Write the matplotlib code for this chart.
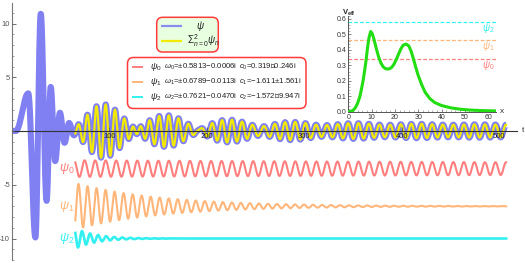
import numpy as np
import matplotlib
matplotlib.use("Agg")
import matplotlib.pyplot as plt
from matplotlib.patches import FancyBboxPatch
from matplotlib.ticker import MultipleLocator, FixedLocator

plt.rcParams['font.family'] = ['Liberation Sans', 'DejaVu Sans']
plt.rcParams['mathtext.fontset'] = 'custom'
plt.rcParams['mathtext.rm'] = 'Liberation Sans'
plt.rcParams['mathtext.it'] = 'Liberation Sans:italic'
plt.rcParams['mathtext.bf'] = 'Liberation Sans:bold'

# ---------------- data ----------------
# quasinormal modes (omega = +/-Re - i|Im|), amplitudes for the +Re branch
omega_re = [0.5813, 0.6789, 0.7621]
omega_im = [-0.0006, -0.0113, -0.0470]
c_re = [0.319, -1.611, -1.572]
c_im = [-0.246, 1.561, -9.947]
c_sign = ['∓', '±', '∓']
mode_offsets = [-3.5, -7.0, -10.0]
mode_colors = ['#ff7f7f', '#ffb67a', '#33f0f0']
t_start_modes = 65.0
t_end = 507.0

# early burst of psi: extrema (t, value)
burst_t = [0.0, 4.0, 16.7, 24.0, 29.5, 35.5, 39.7, 44.3, 49.2, 53.9, 58.6]
burst_v = [0.0, 0.0, 3.5, -9.9, 10.9, -6.5, 4.1, -2.8, 1.7, -1.1, 0.75]

# effective potential samples
veff_x = [0, 1, 2, 3, 4, 5, 5.7, 6.4, 7, 7.6, 8.3, 8.9, 9.6, 10.3, 11, 12, 13, 14,
          15, 16, 17.2, 18.5, 19.5, 20.5, 21.5, 22.5, 23.5, 24.8, 26, 27, 28, 29,
          30, 31.5, 33, 35, 37, 40, 44, 48, 52, 56, 60, 63.4]
veff_v = [0, 0.002, 0.008, 0.025, 0.055, 0.10, 0.15, 0.205, 0.265, 0.33, 0.42,
          0.48, 0.519, 0.505, 0.47, 0.41, 0.355, 0.315, 0.29, 0.278, 0.276, 0.285,
          0.305, 0.335, 0.37, 0.405, 0.43, 0.438, 0.425, 0.39, 0.34, 0.285, 0.235,
          0.175, 0.125, 0.085, 0.06, 0.04, 0.025, 0.016, 0.011, 0.008, 0.006, 0.005]

x_ticks = [100, 200, 300, 400, 500]
y_ticks = [-10, -5, 5, 10]
inset_x_ticks = [0, 10, 20, 30, 40, 50, 60]
inset_y_ticks = [0.0, 0.1, 0.2, 0.3, 0.4, 0.5, 0.6]


def mode(n, t):
    c = c_re[n] + 1j * c_im[n]
    w = omega_re[n] + 1j * omega_im[n]
    return 2 * np.real(c * np.exp(-1j * w * t))


def mode_sum(t):
    return sum(mode(n, t) for n in range(3))


def cos_join(tk, vk, t):
    out = np.zeros_like(t)
    for i in range(len(tk) - 1):
        m = (t >= tk[i]) & (t <= tk[i + 1])
        s = (t[m] - tk[i]) / (tk[i + 1] - tk[i])
        out[m] = vk[i] + (vk[i + 1] - vk[i]) * (1 - np.cos(np.pi * s)) / 2
    return out


# ---------------- figure ----------------
W, H = 525, 263
fig = plt.figure(figsize=(W / 100, H / 100), dpi=100)

px0, px_per_t = 12.0, 0.9746
py0, py_per_u = 131.0, 10.75
ax_right, ax_top, ax_bot = 517.0, 3.0, 260.0
ax = fig.add_axes([px0 / W, 1 - ax_bot / H, (ax_right - px0) / W, (ax_bot - ax_top) / H])
ax.set_xlim(0, (ax_right - px0) / px_per_t)
ax.set_ylim(-(ax_bot - py0) / py_per_u, (py0 - ax_top) / py_per_u)
ax.patch.set_alpha(0)

# blue psi
tt = np.linspace(0, t_end, 8000)
cand = np.linspace(60.5, 66, 2000)
t_join = cand[np.argmin(mode_sum(cand))]
bt = list(burst_t) + [t_join]
bv = list(burst_v) + [float(mode_sum(np.array([t_join]))[0])]
psi = np.where(tt < t_join, cos_join(bt, bv, tt), mode_sum(tt))
ax.plot(tt, psi, color='#8080f2', lw=4.4, solid_capstyle='butt', zorder=1.2)

# sum of modes
ts = np.linspace(t_start_modes, t_end, 6000)
ax.plot(ts, mode_sum(ts), color='#f2ea00', lw=1.6, zorder=1.3)

# shifted individual modes
for n in range(3):
    ax.plot(ts, mode(n, ts) + mode_offsets[n], color=mode_colors[n],
            lw=1.5 if n < 2 else 1.9, zorder=1.2)
    ax.text(t_start_modes - 1.0, mode_offsets[n], r'$\psi_{%d}$' % n,
            color=mode_colors[n], fontsize=9, ha='right', va='center')

for s in ['top', 'right']:
    ax.spines[s].set_visible(False)
ax.spines['bottom'].set_position(('data', 0))
ax.spines['bottom'].set_color('#333333')
ax.spines['bottom'].set_linewidth(0.8)
ax.spines['bottom'].set_zorder(5)
ax.spines['left'].set_color('#777777')
ax.spines['left'].set_linewidth(0.8)
ax.xaxis.set_zorder(6)
ax.yaxis.set_zorder(6)
ax.xaxis.set_major_locator(FixedLocator(x_ticks))
ax.xaxis.set_minor_locator(MultipleLocator(20))
ax.yaxis.set_major_locator(FixedLocator(y_ticks))
ax.yaxis.set_minor_locator(MultipleLocator(1))
ax.set_yticklabels([str(v) for v in y_ticks])
ax.tick_params(axis='both', which='major', direction='in', length=3, width=0.6,
               labelsize=5.5, colors='#555555', pad=1.5)
ax.tick_params(axis='both', which='minor', direction='in', length=1.5, width=0.5,
               colors='#777777')
ax.tick_params(axis='x', which='major', labelcolor='#222222')
ax.annotate('t', xy=(523 / W, 1 - 131 / H), xycoords='figure fraction',
            fontsize=6, color='#333333', ha='center', va='center')

# ---------------- inset ----------------
i_left, i_right, i_bot = 348.3, 496.0, 111.7
ix_per, iy_per = 2.33, 154.5
i_ytop = 0.62
i_top = i_bot - i_ytop * iy_per
ax2 = fig.add_axes([i_left / W, 1 - i_bot / H, (i_right - i_left) / W, (i_bot - i_top) / H])
ax2.set_xlim(0, (i_right - i_left) / ix_per)
ax2.set_ylim(0, i_ytop)
ax2.patch.set_alpha(0)
for n in range(3):
    lvl = omega_re[n] ** 2
    ax2.axhline(lvl, color=mode_colors[n], lw=0.9, ls=(0, (3, 1.6)), zorder=2)
    ax2.text(60.1, lvl - 0.038, r'$\psi_{%d}$' % n, color=mode_colors[n],
             fontsize=7, ha='center', va='center')
ax2.plot(veff_x, veff_v, color='#22dd11', lw=2.2, zorder=3)
for s in ['top', 'right']:
    ax2.spines[s].set_visible(False)
for s in ['left', 'bottom']:
    ax2.spines[s].set_color('#555555')
    ax2.spines[s].set_linewidth(0.7)
ax2.xaxis.set_major_locator(FixedLocator(inset_x_ticks))
ax2.xaxis.set_minor_locator(MultipleLocator(2))
ax2.yaxis.set_major_locator(FixedLocator(inset_y_ticks))
ax2.yaxis.set_minor_locator(MultipleLocator(0.02))
ax2.set_yticklabels(['%.1f' % v for v in inset_y_ticks])
ax2.tick_params(axis='both', which='major', direction='in', length=2.5, width=0.5,
                labelsize=5, colors='#555555', labelcolor='#333333', pad=1.5)
ax2.tick_params(axis='both', which='minor', direction='in', length=1.2, width=0.4,
                colors='#777777')

# ---------------- overlay (pixel coordinates) ----------------
ov = fig.add_axes([0, 0, 1, 1])
ov.set_xlim(0, W)
ov.set_ylim(H, 0)
ov.axis('off')
ov.set_zorder(10)

ov.text(349, 12.5, r'$\mathbf{V_{eff}}$', fontsize=5.5, ha='center', va='center',
        color='#222222')
ov.text(502, 111.7, 'x', fontsize=6, ha='center', va='center', color='#333333')

# legend 1
ov.add_patch(FancyBboxPatch((156.7, 17.3), 61.6, 34.7,
                            boxstyle='round,pad=0,rounding_size=6',
                            fc='#e8ffe0', ec='#ff3b3b', lw=1.1))
ov.plot([160.7, 181.7], [25.7, 25.7], color='#8c8cf0', lw=1.6, solid_capstyle='butt')
ov.text(200, 25.7, r'$\psi$', fontsize=7, ha='center', va='center', color='#222222')
ov.plot([160.7, 181.7], [40.7, 40.7], color='#f2ea00', lw=1.6, solid_capstyle='butt')
ov.text(187, 41.0, r'$\Sigma_{n=0}^{2}\psi_n$', fontsize=7, ha='left', va='center',
        color='#222222')

# legend 2
ov.add_patch(FancyBboxPatch((127.5, 57.5), 178.5, 51.0,
                            boxstyle='round,pad=0,rounding_size=6',
                            fc='white', ec='#ff3b3b', lw=1.1))
rows_y = [67.0, 81.7, 96.7]
for n in range(3):
    y = rows_y[n]
    ov.plot([131.7, 143.3], [y, y], color=mode_colors[n], lw=1.4, solid_capstyle='butt')
    ov.text(150, y, r'$\psi_{%d}$' % n, fontsize=6.5, ha='left', va='center',
            color='#222222')
    wtxt = r'$\omega_{%d}$' % n + '=±%.4f−%.4fi' % (omega_re[n], abs(omega_im[n]))
    ov.text(163.5, y, wtxt, fontsize=5.6, ha='left', va='center', color='#222222')
    sre = ('%.3f' % c_re[n]).replace('-', '−')
    ctxt = r'$c_{%d}$' % n + '=%s%s%.3fi' % (sre, c_sign[n], abs(c_im[n]))
    ov.text(239, y, ctxt, fontsize=5.6, ha='left', va='center', color='#222222')

fig.savefig('out.png', dpi=100)
